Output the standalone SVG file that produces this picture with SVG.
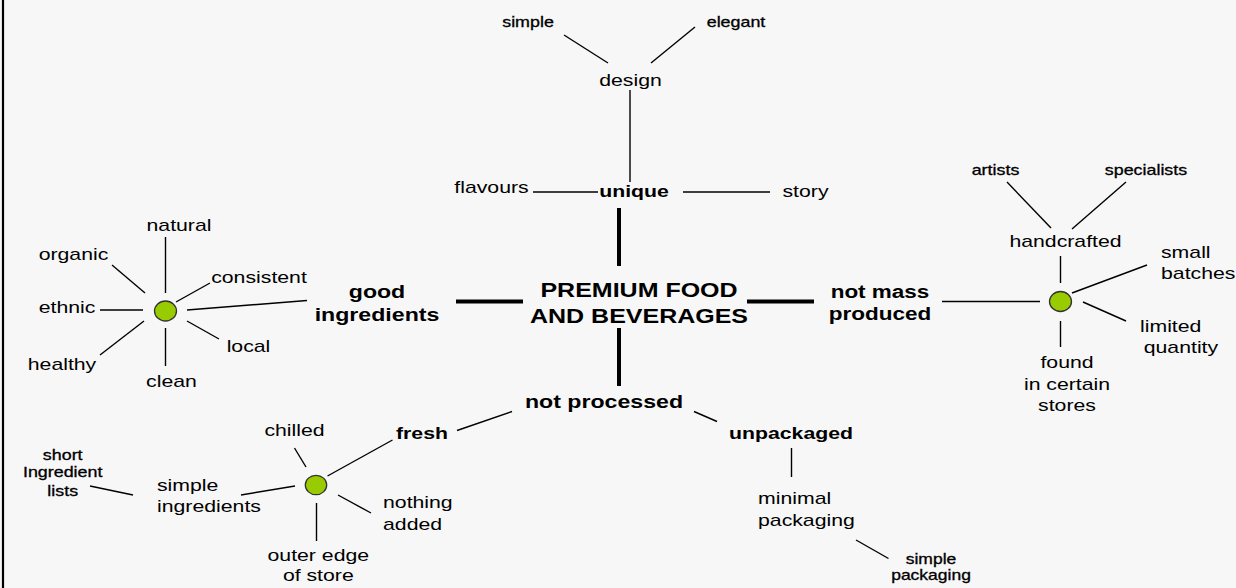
<svg xmlns="http://www.w3.org/2000/svg" width="1236" height="588" viewBox="0 0 1236 588">
<style>
text{font-family:"Liberation Sans",Arial,sans-serif;fill:#000;text-anchor:middle}
.r{font-size:17px}
.s{font-size:14.3px;stroke:#000;stroke-width:0.3}
.b{font-weight:bold;font-size:18.5px}
.b17{font-weight:bold;font-size:17px}
.c{font-weight:bold;font-size:20px}
.st{text-anchor:start}
.ln{stroke:#000;stroke-width:1.4;fill:none}
.tk{stroke:#000;stroke-width:4;fill:none}
.dot{fill:#99cc00;stroke:#333;stroke-width:1.3}
</style>
<rect x="0" y="0" width="1236" height="588" fill="#f7f7f7"/>
<line x1="3" y1="0" x2="3" y2="588" stroke="#000" stroke-width="2.2"/>
<g id="connectors">
<line class="tk" x1="619" y1="208" x2="619" y2="266"/>
<line class="tk" x1="456" y1="301.5" x2="523" y2="301.5"/>
<line class="tk" x1="747" y1="301.5" x2="814" y2="301.5"/>
<line class="tk" x1="619" y1="328" x2="619" y2="386"/>
<line class="ln" x1="564" y1="35" x2="608" y2="63"/>
<line class="ln" x1="695" y1="27" x2="651" y2="63"/>
<line class="ln" x1="630" y1="90" x2="630" y2="182"/>
<line class="ln" x1="533" y1="192" x2="598" y2="192"/>
<line class="ln" x1="683" y1="192" x2="770" y2="192"/>
<line class="ln" x1="165.5" y1="237" x2="165.5" y2="293"/>
<line class="ln" x1="112" y1="265" x2="145" y2="293"/>
<line class="ln" x1="210" y1="283" x2="176" y2="302"/>
<line class="ln" x1="100" y1="310" x2="143" y2="310"/>
<line class="ln" x1="187" y1="310" x2="307" y2="300.5"/>
<line class="ln" x1="100" y1="355" x2="144" y2="321"/>
<line class="ln" x1="187" y1="321" x2="219" y2="339"/>
<line class="ln" x1="165.5" y1="328" x2="165.5" y2="366"/>
<line class="ln" x1="942" y1="301.5" x2="1040" y2="301.5"/>
<line class="ln" x1="1007" y1="182" x2="1051" y2="228"/>
<line class="ln" x1="1126" y1="182" x2="1072" y2="229"/>
<line class="ln" x1="1060.5" y1="256" x2="1060.5" y2="283"/>
<line class="ln" x1="1072" y1="293" x2="1147" y2="265"/>
<line class="ln" x1="1083" y1="302" x2="1126" y2="321"/>
<line class="ln" x1="1060.5" y1="321" x2="1060.5" y2="347"/>
<line class="ln" x1="512" y1="411.5" x2="457" y2="430.5"/>
<line class="ln" x1="694" y1="411.5" x2="717" y2="421.5"/>
<line class="ln" x1="392.5" y1="440" x2="327.5" y2="476"/>
<line class="ln" x1="294.5" y1="448" x2="306" y2="467"/>
<line class="ln" x1="90" y1="486" x2="133" y2="495"/>
<line class="ln" x1="241" y1="495" x2="295" y2="486"/>
<line class="ln" x1="338" y1="495" x2="371" y2="513"/>
<line class="ln" x1="316.5" y1="503" x2="316.5" y2="541"/>
<line class="ln" x1="791.5" y1="448" x2="791.5" y2="477"/>
<line class="ln" x1="856" y1="540" x2="888.5" y2="558.5"/>
</g>
<g id="center"><text class="c" transform="matrix(1.25,0,0,1,639,297)"><tspan x="0">PREMIUM FOOD</tspan><tspan x="0" dy="26">AND BEVERAGES</tspan></text></g>
<g id="unique"><text class="b17" transform="matrix(1.25,0,0,1,634,197)">unique</text></g>
<g id="design"><text class="r" transform="matrix(1.25,0,0,1,630.5,86)">design</text></g>
<g id="simple-design"><text class="s" transform="matrix(1.25,0,0,1,528,27)">simple</text></g>
<g id="elegant"><text class="s" transform="matrix(1.25,0,0,1,736,27)">elegant</text></g>
<g id="flavours"><text class="r" transform="matrix(1.25,0,0,1,491.5,193)">flavours</text></g>
<g id="story"><text class="r" transform="matrix(1.25,0,0,1,805.5,197)">story</text></g>
<g id="good-ingredients"><text class="b" transform="matrix(1.25,0,0,1,377,298)"><tspan x="0">good</tspan><tspan x="0" dy="23">ingredients</tspan></text></g>
<g id="gi-hub"><ellipse class="dot" cx="165.5" cy="311" rx="11" ry="10"/></g>
<g id="natural"><text class="r" transform="matrix(1.25,0,0,1,179,231)">natural</text></g>
<g id="organic"><text class="r" transform="matrix(1.25,0,0,1,73.5,260)">organic</text></g>
<g id="consistent"><text class="r" transform="matrix(1.25,0,0,1,259,283)">consistent</text></g>
<g id="ethnic"><text class="r" transform="matrix(1.25,0,0,1,67,312.5)">ethnic</text></g>
<g id="healthy"><text class="r" transform="matrix(1.25,0,0,1,62,370)">healthy</text></g>
<g id="local"><text class="r" transform="matrix(1.25,0,0,1,248.5,352)">local</text></g>
<g id="clean"><text class="r" transform="matrix(1.25,0,0,1,171.5,386.5)">clean</text></g>
<g id="not-mass-produced"><text class="b" style="font-size:18px" transform="matrix(1.25,0,0,1,880,298)"><tspan x="0">not mass</tspan><tspan x="0" dy="22">produced</tspan></text></g>
<g id="nmp-hub"><ellipse class="dot" cx="1060.5" cy="301.5" rx="11" ry="10"/></g>
<g id="handcrafted"><text class="r" transform="matrix(1.25,0,0,1,1065.5,246.5)">handcrafted</text></g>
<g id="artists"><text class="s" transform="matrix(1.25,0,0,1,995.5,175)">artists</text></g>
<g id="specialists"><text class="s" transform="matrix(1.25,0,0,1,1146,175)">specialists</text></g>
<g id="small-batches"><text class="r st" transform="matrix(1.25,0,0,1,1161,258)"><tspan x="0">small</tspan><tspan x="0" dy="21">batches</tspan></text></g>
<g id="limited-quantity"><text class="r st" transform="matrix(1.25,0,0,1,1140,331.5)"><tspan x="0">limited</tspan><tspan x="3" dy="21.5">quantity</tspan></text></g>
<g id="found-stores"><text class="r" transform="matrix(1.25,0,0,1,1067,368)"><tspan x="0">found</tspan><tspan x="0" dy="21.7">in certain</tspan><tspan x="0" dy="21.7">stores</tspan></text></g>
<g id="not-processed"><text class="b" transform="matrix(1.25,0,0,1,604,407.5)">not processed</text></g>
<g id="fresh"><text class="b17" transform="matrix(1.25,0,0,1,422,438.5)">fresh</text></g>
<g id="fresh-hub"><ellipse class="dot" cx="316" cy="485" rx="10.7" ry="9.7"/></g>
<g id="chilled"><text class="r" transform="matrix(1.25,0,0,1,294.5,436)">chilled</text></g>
<g id="simple-ingredients"><text class="r st" transform="matrix(1.25,0,0,1,157,491)"><tspan x="0">simple</tspan><tspan x="0" dy="21.5">ingredients</tspan></text></g>
<g id="short-lists"><text class="s" transform="matrix(1.25,0,0,1,62.7,460)"><tspan x="0">short</tspan><tspan x="0" dy="17.5">Ingredient</tspan><tspan x="0" dy="18.5">lists</tspan></text></g>
<g id="nothing-added"><text class="r st" transform="matrix(1.25,0,0,1,383,508)"><tspan x="0">nothing</tspan><tspan x="0" dy="21.7">added</tspan></text></g>
<g id="outer-edge"><text class="r" transform="matrix(1.25,0,0,1,318.3,560.5)"><tspan x="0">outer edge</tspan><tspan x="0" dy="21">of store</tspan></text></g>
<g id="unpackaged"><text class="b17" transform="matrix(1.25,0,0,1,791,439)">unpackaged</text></g>
<g id="minimal-packaging"><text class="r st" transform="matrix(1.25,0,0,1,758,504)"><tspan x="0">minimal</tspan><tspan x="0" dy="22.5">packaging</tspan></text></g>
<g id="simple-packaging"><text class="s" style="font-size:14px" transform="matrix(1.25,0,0,1,931,563.5)"><tspan x="0">simple</tspan><tspan x="0" dy="17">packaging</tspan></text></g>
</svg>
